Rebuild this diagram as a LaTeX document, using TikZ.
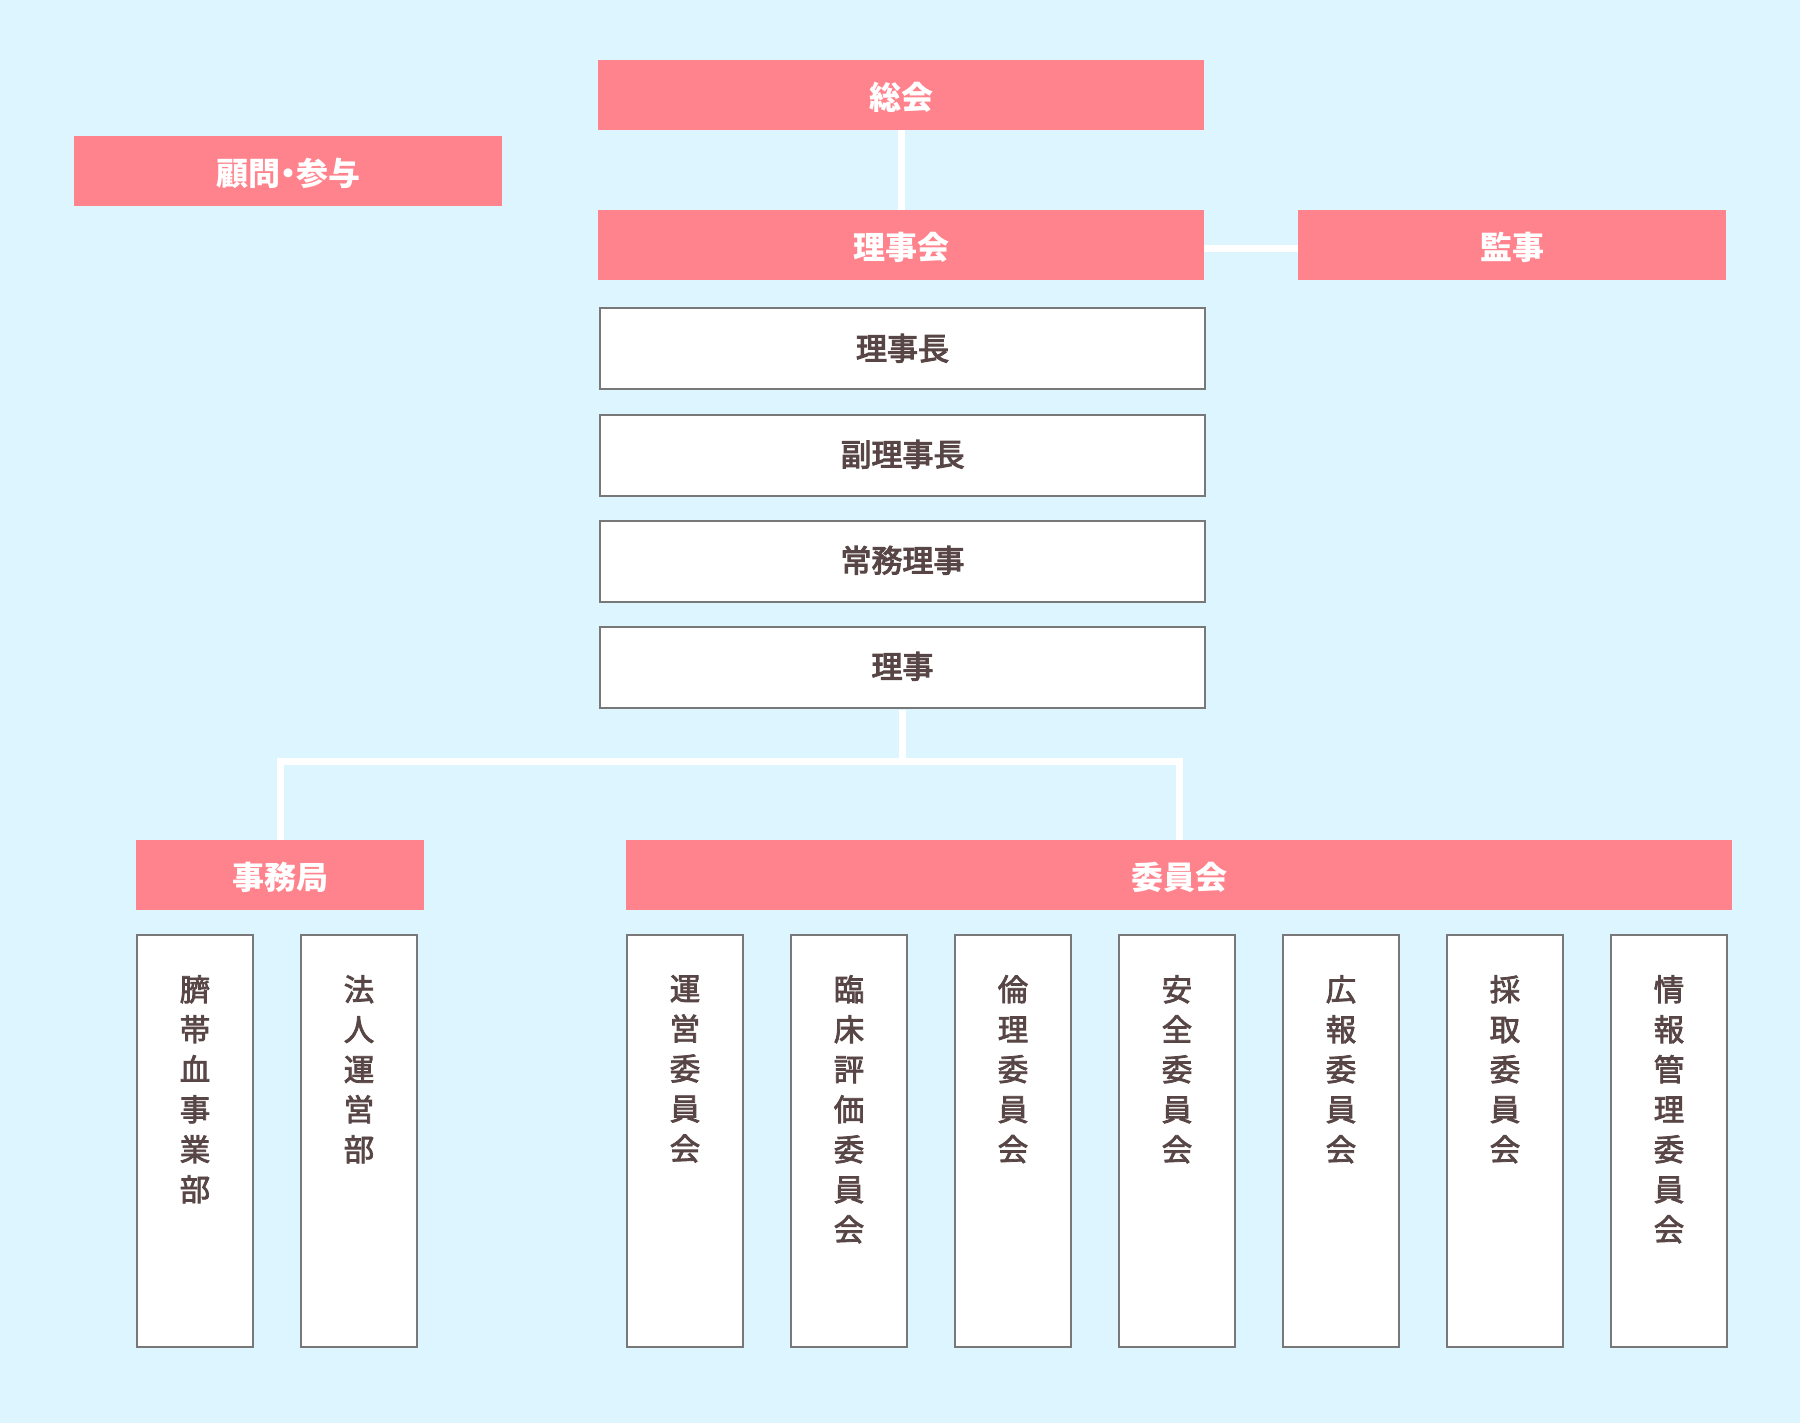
\documentclass[tikz,border=0pt]{standalone}
\usepackage{fontspec}
\newfontfamily\jp{Noto Sans CJK JP}
\newfontfamily\jpmed[FakeBold=3.5]{Noto Sans CJK JP}
\newfontfamily\jpv[FakeBold=2.5]{Noto Sans CJK JP}
\usetikzlibrary{positioning}
\definecolor{bgc}{HTML}{DDF5FE}
\definecolor{pk}{HTML}{FF838D}
\definecolor{bd}{HTML}{787878}
\definecolor{tx}{HTML}{584646}
\begin{document}
\begin{tikzpicture}[x=1pt,y=-1pt,
  pinkbox/.style={fill=pk, draw=none, inner sep=0pt, text=white,
    font=\jp\bfseries\fontsize{32}{36}\selectfont, minimum height=70pt,
    text height=32pt, text depth=3pt},
  whitebox/.style={fill=white, draw=bd, line width=2pt, inner sep=0pt, text=tx,
    font=\jpmed\fontsize{31}{36}\selectfont, minimum width=605pt, minimum height=81pt,
    text height=26pt, text depth=4pt},
  colbox/.style={fill=white, draw=bd, line width=2pt, inner sep=0pt,
    minimum width=116pt, minimum height=412pt},
  vtext/.style={inner sep=0pt, text=tx, align=center, anchor=north,
    font=\jpv\fontsize{30.5}{40}\selectfont},
  conn/.style={draw=white, line width=7pt, line join=miter}]
\useasboundingbox (0,0) rectangle (1800,1423);
\fill[bgc] (0,0) rectangle (1800,1423);

% coordinate for the tree bar
\coordinate (bar) at (901,761);

% header boxes
\node[pinkbox, minimum width=428pt] (komon) at (288,171) {顧問\hbox to 0.5em{\hss・\hss}参与};
\node[pinkbox, minimum width=606pt] (sokai) at (901,95) {総会};
\node[pinkbox, minimum width=606pt] (rijikai) at (901,245) {理事会};
\node[pinkbox, minimum width=428pt] (kanji) at (1512,245) {監事};

% connectors (drawn first, boxes cover ends)
\draw[conn] (sokai.south) -- (rijikai.north);
\draw[conn] ([yshift=-4pt]rijikai.east) -- ([yshift=-4pt]kanji.west);

\node[whitebox] (rijicho) at (902.5,349) {理事長};
\node[whitebox] (fuku) at (902.5,455) {副理事長};
\node[whitebox] (jomu) at (902.5,561) {常務理事};
\node[whitebox] (riji) at (902.5,667) {理事};

\node[pinkbox, minimum width=288pt] (jimu) at (280,875) {事務局};
\node[pinkbox, minimum width=1106pt] (iinkai) at (1179,875) {委員会};

% column boxes
\node[colbox] (c1) at (195,1141) {};
\node[colbox] (c2) at (359,1141) {};
\node[colbox] (c3) at (685,1141) {};
\node[colbox] (c4) at (849,1141) {};
\node[colbox] (c5) at (1013,1141) {};
\node[colbox] (c6) at (1177,1141) {};
\node[colbox] (c7) at (1341,1141) {};
\node[colbox] (c8) at (1505,1141) {};
\node[colbox] (c9) at (1669,1141) {};

\node[vtext, below=41pt of c1.north] (t1) {臍\\帯\\血\\事\\業\\部};
\node[vtext, below=41pt of c2.north] (t2) {法\\人\\運\\営\\部};
\node[vtext, below=41pt of c3.north] (t3) {運\\営\\委\\員\\会};
\node[vtext, below=41pt of c4.north] (t4) {臨\\床\\評\\価\\委\\員\\会};
\node[vtext, below=41pt of c5.north] (t5) {倫\\理\\委\\員\\会};
\node[vtext, below=41pt of c6.north] (t6) {安\\全\\委\\員\\会};
\node[vtext, below=41pt of c7.north] (t7) {広\\報\\委\\員\\会};
\node[vtext, below=41pt of c8.north] (t8) {採\\取\\委\\員\\会};
\node[vtext, below=41pt of c9.north] (t9) {情\\報\\管\\理\\委\\員\\会};

% tree connector
\draw[conn] ([yshift=-1pt]riji.south) -- (riji.south |- bar);
\draw[conn] (jimu.north) -- (jimu.north |- bar) -- (iinkai.north |- bar) -- (iinkai.north);
\end{tikzpicture}
\end{document}
